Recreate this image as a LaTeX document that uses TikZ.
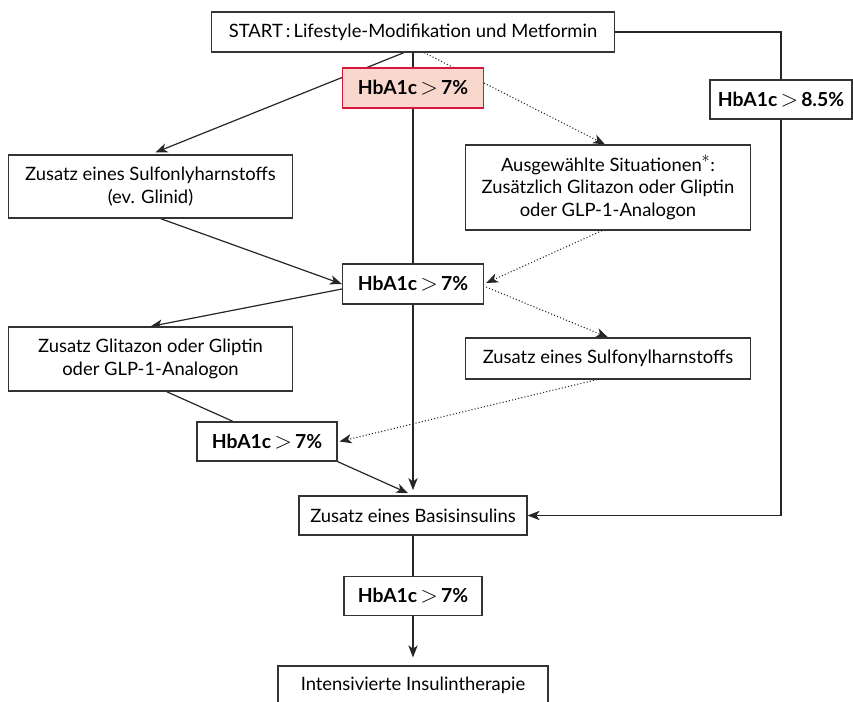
\documentclass[tikz,border=0pt]{standalone}
\usepackage{fontspec}
\setmainfont{Lato}
\usetikzlibrary{arrows.meta,calc,backgrounds}
\definecolor{hbred}{RGB}{214,22,58}
\definecolor{hbfill}{RGB}{248,216,204}

\newcommand{\hbgt}{\,{\fontsize{17}{17}\selectfont$>$}\,}

\begin{document}
\begin{tikzpicture}[x = 0.75pt, y = -0.75pt,
  box/.style = {draw = black!80, line width = 0.9pt, fill = white, align = center,
                inner sep = 0pt, font = \fontsize{13.8}{17}\selectfont},
  hba/.style = {box, font = \fontsize{14.5}{17}\selectfont\bfseries,
                minimum width = 105.75pt, minimum height = 30pt},
  wide/.style = {box, minimum width = 213.5pt},
  link/.style = {draw = black!85, line width = 0.9pt},
  tip/.style = {link, -{Stealth[length = 9pt, width = 7pt, inset = 2.5pt]}},
  dots/.style = {tip, line width = 0.8pt, dash pattern = on 0.8pt off 1.6pt}]
\path[use as bounding box, clip] (0,0) rectangle (853,701);

% boxes
\node[box, minimum width = 302.25pt, minimum height = 30pt] (start) at (413,32)
  {START\,:\,Lifestyle-Modifikation und Metformin};
\node[hba, draw = hbred, fill = hbfill] (hbRed) at (413,88)
  {HbA1c\hbgt 7\%};
\node[wide, minimum height = 47.25pt] (sulfo) at (150.5,186.5)
  {Zusatz eines Sulfonlyharnstoffs\\(ev. Glinid)};
\node[wide, minimum height = 63.75pt] (ausgew) at (608,187.5)
  {Ausgewählte Situationen{\fontsize{17}{17}\selectfont$^{\ast}$}:\\Zusätzlich Glitazon oder Gliptin\\oder GLP-1-Analogon};
\node[hba] (hbMid) at (413,284) {HbA1c\hbgt 7\%};
\node[wide, minimum height = 48pt] (glit) at (150.5,359)
  {Zusatz Glitazon oder Gliptin\\oder GLP-1-Analogon};
\node[wide, minimum height = 30.75pt] (sulfoR) at (608,358.5)
  {Zusatz eines Sulfonylharnstoffs};
\node[hba, minimum width = 105pt, minimum height = 29.25pt] (hbLow) at (267,441.5)
  {HbA1c\hbgt 7\%};
\node[box, minimum width = 171pt, minimum height = 29.25pt] (basis) at (413,515.5)
  {Zusatz eines Basisinsulins};
\node[hba, minimum width = 106.5pt, minimum height = 29.25pt] (hbEight) at (781,99.5)
  {HbA1c\hbgt 8.5\%};
\node[hba, minimum width = 103.5pt, minimum height = 29.25pt] (hbBottom) at (413,596)
  {HbA1c\hbgt 7\%};
\node[box, minimum width = 202.5pt, minimum height = 28.5pt] (intens) at (413,685)
  {Intensivierte Insulintherapie};

% connectors
\begin{scope}[on background layer]
\draw[tip, shorten > = 4pt] (start.south) -- (basis.north);
\draw[tip, shorten > = 4pt] ($(start.south)+(-9,0)$) -- (sulfo.north);
\draw[dots] ($(start.south)+(11,0)$) -- ($(ausgew.north)+(-3,0)$);
\draw[tip] ($(sulfo.south)+(10,0)$) -- (hbMid.west);
\draw[dots] ($(ausgew.south)+(-6,0)$) -- ($(hbMid.east)+(2,-1)$);
\draw[tip] ($(hbMid.west)+(0,5)$) -- (glit.north);
\draw[dots] ($(hbMid.east)+(2,3)$) -- (sulfoR.north);
\draw[link] ($(glit.south)+(16,0)$) -- ($(hbLow.north)+(-34,0)$);
\draw[dots] ($(sulfoR.south)+(-11,0)$) -- ($(hbLow.east)+(2,0)$);
\draw[tip, shorten > = 4pt] (hbLow.south east) -- (basis.north);
\draw[link] (start.east) -| (hbEight.north);
\draw[tip] (hbEight.south) |- (basis.east);
\draw[link] (basis.south) -- (hbBottom.north);
\draw[tip, shorten > = 6pt] (hbBottom.south) -- (intens.north);
\end{scope}
\end{tikzpicture}
\end{document}
